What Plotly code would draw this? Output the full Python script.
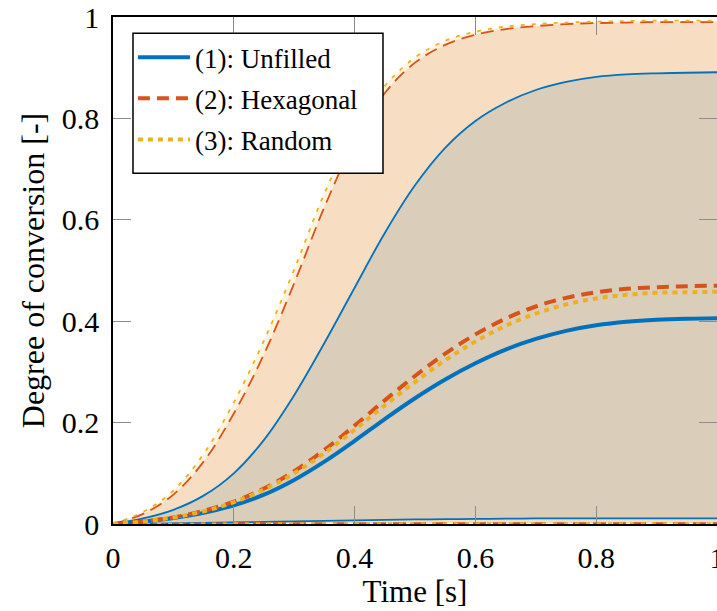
import plotly.graph_objects as go

# ---------------- data ----------------
t = [0.0, 0.05, 0.1, 0.15, 0.2, 0.25, 0.3, 0.35, 0.4, 0.45, 0.5,
     0.55, 0.6, 0.65, 0.7, 0.75, 0.8, 0.85, 0.9, 0.95, 1.0]

unfilled_mean = [0.0, 0.005, 0.012, 0.022, 0.037, 0.058, 0.087, 0.123, 0.164, 0.207, 0.248,
                 0.285, 0.317, 0.344, 0.365, 0.381, 0.392, 0.399, 0.403, 0.405, 0.406]
unfilled_upper = [0.0, 0.011, 0.028, 0.056, 0.100, 0.166, 0.254, 0.357, 0.466, 0.574, 0.668,
                  0.742, 0.795, 0.831, 0.856, 0.872, 0.882, 0.887, 0.889, 0.890, 0.891]
unfilled_lower = [0.0, 0.0005, 0.001, 0.002, 0.003, 0.004, 0.005, 0.006, 0.007, 0.008, 0.009,
                  0.0095, 0.010, 0.0105, 0.011, 0.011, 0.011, 0.011, 0.011, 0.011, 0.011]

hex_mean = [0.0, 0.005, 0.013, 0.026, 0.044, 0.070, 0.104, 0.146, 0.194, 0.244, 0.292,
            0.336, 0.374, 0.405, 0.429, 0.446, 0.457, 0.464, 0.467, 0.469, 0.470]
hex_upper = [0.0, 0.020, 0.058, 0.123, 0.218, 0.335, 0.475, 0.625, 0.755, 0.850, 0.910,
             0.945, 0.965, 0.976, 0.982, 0.986, 0.988, 0.989, 0.990, 0.990, 0.990]
hex_lower = [0.0, 0.0, 0.0005, 0.001, 0.0015, 0.0015, 0.0015, 0.0015, 0.0015, 0.0015, 0.0015,
             0.0015, 0.0015, 0.0015, 0.0015, 0.0015, 0.0015, 0.0015, 0.0015, 0.0015, 0.0015]

rand_mean = [0.0, 0.005, 0.013, 0.025, 0.043, 0.068, 0.100, 0.140, 0.186, 0.234, 0.280,
             0.323, 0.360, 0.391, 0.415, 0.433, 0.445, 0.452, 0.456, 0.457, 0.458]
rand_upper = [0.0, 0.024, 0.066, 0.138, 0.240, 0.362, 0.502, 0.652, 0.775, 0.864, 0.920,
              0.953, 0.971, 0.981, 0.986, 0.989, 0.991, 0.992, 0.993, 0.993, 0.993]
rand_lower = [0.0, 0.0, 0.0005, 0.001, 0.0015, 0.0015, 0.0015, 0.0015, 0.0015, 0.0015, 0.0015,
              0.0015, 0.0015, 0.0015, 0.0015, 0.0015, 0.0015, 0.0015, 0.0015, 0.0015, 0.0015]

names = ["(1): Unfilled", "(2): Hexagonal", "(3): Random"]
tick_vals = [0, 0.2, 0.4, 0.6, 0.8, 1]
tick_text = ["0", "0.2", "0.4", "0.6", "0.8", "1"]

# ---------------- styles ----------------
BLUE = "#0072BD"
ORANGE = "#D95319"
YELLOW = "#EDB120"
FILLS = ["rgba(0,114,189,0.15)", "rgba(217,83,25,0.15)", "rgba(237,177,32,0.15)"]
FONT = "Liberation Serif"

series = [
    (unfilled_mean, unfilled_upper, unfilled_lower, BLUE, "solid", "solid"),
    (hex_mean, hex_upper, hex_lower, ORANGE, "12px,7px", "13px,7px"),
    (rand_mean, rand_upper, rand_lower, YELLOW, "5px,5px", "4px,7px"),
]

fig = go.Figure()

# fills first
for i, (m, up, lo, col, dm, db) in enumerate(series):
    fig.add_trace(go.Scatter(x=t, y=lo, mode="lines", line=dict(width=0, shape="spline"),
                             showlegend=False, hoverinfo="skip"))
    fig.add_trace(go.Scatter(x=t, y=up, mode="lines", line=dict(width=0, shape="spline"),
                             fill="tonexty", fillcolor=FILLS[i], showlegend=False,
                             hoverinfo="skip"))

# bound lines
for i, (m, up, lo, col, dm, db) in enumerate(series):
    for b in (up, lo):
        fig.add_trace(go.Scatter(x=t, y=b, mode="lines",
                                 line=dict(color=col, width=1.8, dash=db, shape="spline"),
                                 showlegend=False))

# mean lines
for i, (m, up, lo, col, dm, db) in enumerate(series):
    fig.add_trace(go.Scatter(x=t, y=m, mode="lines", name=names[i],
                             legendgroup="g%d" % i,
                             line=dict(color=col, width=4, dash=dm, shape="spline")))

axis_common = dict(
    range=[0, 1], tickmode="array", tickvals=tick_vals, ticktext=tick_text,
    showgrid=False, zeroline=False, showline=True, linecolor="black", linewidth=1.5,
    ticks="inside", ticklen=18, tickcolor="#8c8c8c", tickwidth=1,
    tickfont=dict(family=FONT, size=30, color="black"),
    ticklabeloverflow="allow", automargin=False,
)

# legend frame (white box with black border) drawn as a shape, legend text on top
fig.add_shape(type="rect", xref="paper", yref="paper",
              x0=0.0331, x1=0.447, y0=0.692, y1=0.968,
              fillcolor="white", line=dict(color="black", width=1.5), layer="above")

fig.update_layout(
    width=717, height=611,
    margin=dict(l=113, r=0, t=17, b=87),
    paper_bgcolor="white", plot_bgcolor="white",
    font=dict(family=FONT, color="black"),
    xaxis=dict(**axis_common, mirror="ticks", ticklabelstandoff=6,
               title=dict(text="Time [s]", font=dict(family=FONT, size=31), standoff=6)),
    yaxis=dict(**axis_common, mirror="ticks", ticklabelstandoff=6,
               title=dict(text="Degree of conversion [-]", font=dict(family=FONT, size=32),
                          standoff=8)),
    legend=dict(x=0.033, y=0.968, xanchor="left", yanchor="top",
                bgcolor="rgba(0,0,0,0)", borderwidth=0,
                font=dict(family=FONT, size=27, color="black"),
                itemwidth=52, tracegroupgap=3),
    showlegend=True,
)

fig.write_html("out.html")
